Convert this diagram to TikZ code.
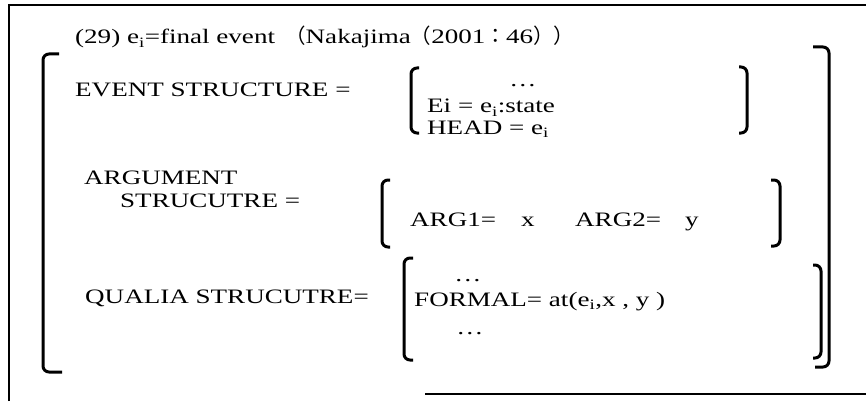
\documentclass[tikz,border=0pt]{standalone}
\usepackage{fontspec}
\setmainfont[FakeStretch=1.32]{Liberation Serif}
\newfontfamily\cjk{Noto Sans CJK JP}
\tikzset{
  txt/.style={anchor=base west, inner sep=0pt, font=\fontsize{20.5}{24}\selectfont},
  dotsc/.style={anchor=base, inner sep=0pt, font=\fontsize{20.5}{24}\selectfont},
  brk/.style={line width=3pt, rounded corners=6pt},
  frameline/.style={line width=1.5pt}
}
\begin{document}
\begin{tikzpicture}[x=1pt,y=-1pt]
\useasboundingbox (0,0) rectangle (866,401);
% frame
\draw[frameline] (9,401) -- (9,5) -- (866,5);
\draw[frameline] (425,394) -- (866,394);
% title
\node[txt] (title) at (75,44) {(29) e\textsubscript{i}=final event};
\node[txt] (cite) at (285,44) {{\cjk （}Nakajima{\cjk （}2001{\cjk ：}46{\cjk ）}{\cjk ）}};
% big brackets
\draw[brk] (59,54) -- (43,54) -- (43,372) -- (62,372);
\draw[brk] (813,47) -- (829,47) -- (829,367) -- (815,367);
% event structure
\node[txt] (evlab) at (75,97) {EVENT STRUCTURE =};
\draw[brk] (419,68) -- (411,68) -- (411,133) -- (419,133);
\draw[brk] (739,67) -- (747,67) -- (747,133) -- (739,133);
\node[dotsc] (evdots) at (523,87) {\ldots};
\node[txt] (evei) at (427,113) {Ei = e\textsubscript{i}:state};
\node[txt] (evhead) at (427,134) {HEAD = e\textsubscript{i}};
% argument structure
\node[txt] (arglab1) at (84,184) {ARGUMENT};
\node[txt] (arglab2) at (120,207) {STRUCUTRE =};
\draw[brk] (390,180) -- (382,180) -- (382,247) -- (390,247);
\draw[brk] (771,180) -- (780,180) -- (780,246) -- (771,246);
\node[txt] (arg1) at (410,226) {ARG1=};
\node[txt] (argx) at (521,226) {x};
\node[txt] (arg2) at (575,226) {ARG2=};
\node[txt] (argy) at (685,226) {y};
% qualia structure
\node[txt] (qlab) at (85,303) {QUALIA STRUCUTRE=};
\draw[brk] (413,258) -- (404,258) -- (404,360) -- (413,360);
\draw[brk] (813,265) -- (821,265) -- (821,358) -- (813,358);
\node[dotsc] (qdots1) at (468,281) {\ldots};
\node[txt] (qformal) at (414,306) {FORMAL= at(e\textsubscript{i},x , y )};
\node[dotsc] (qdots2) at (470,334) {\ldots};
\end{tikzpicture}
\end{document}
